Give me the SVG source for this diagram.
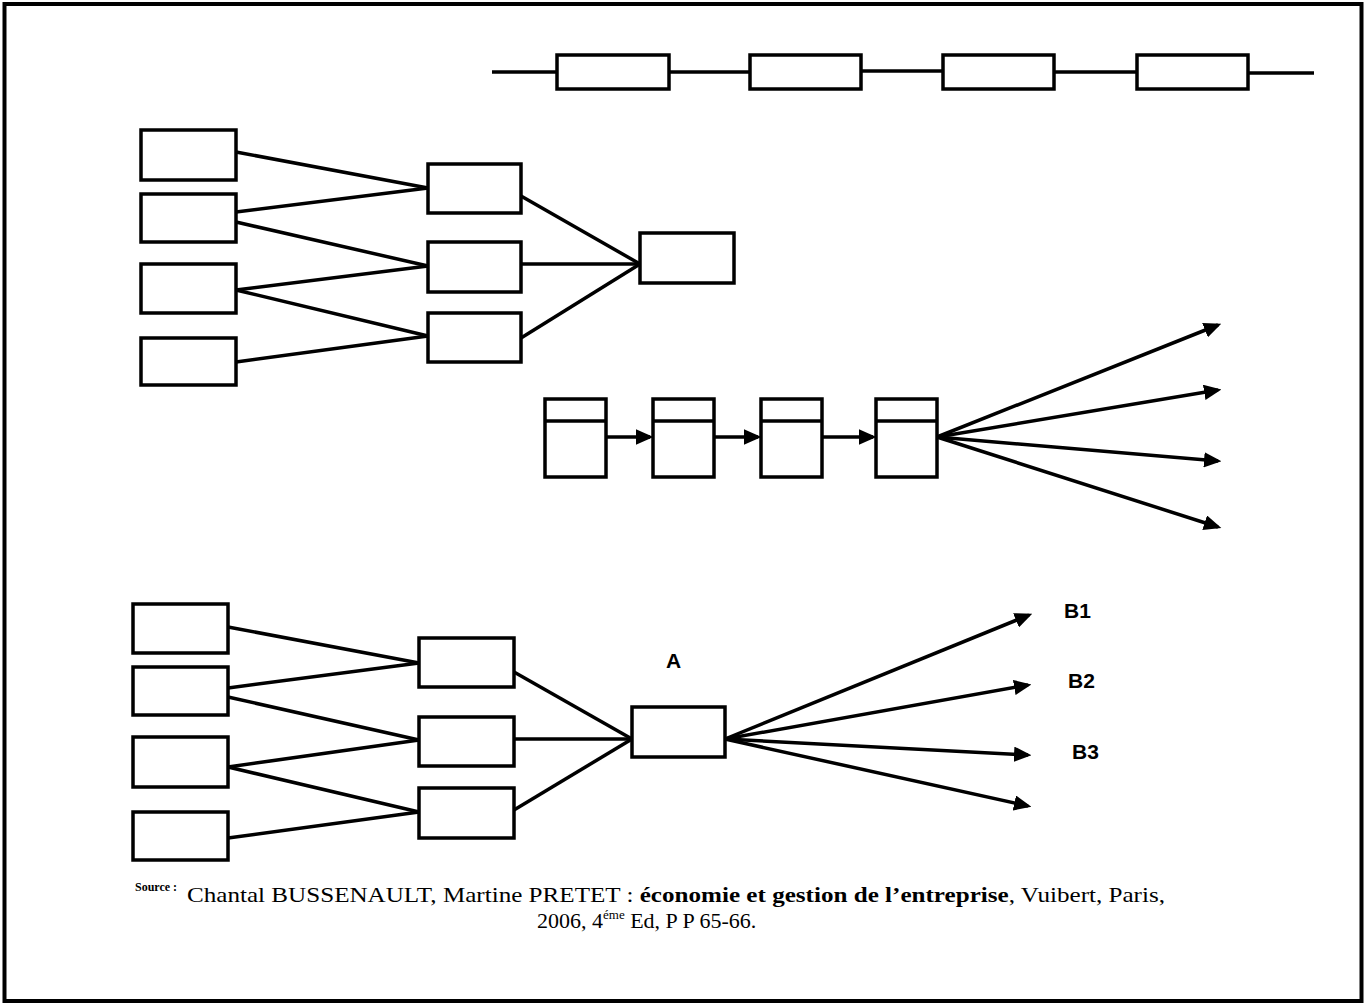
<svg xmlns="http://www.w3.org/2000/svg" width="1365" height="1003" viewBox="0 0 1365 1003">
<defs>
<style>
.box{fill:#fff;stroke:#000;stroke-width:3.5}
.ln{stroke:#000;stroke-width:3.5;fill:none}
.ar{stroke:#000;stroke-width:3.5;fill:none;marker-end:url(#ah)}
.lbl{font-family:"Liberation Sans",Arial,sans-serif;font-weight:bold;font-size:21px;fill:#000}
.src{font-family:"Liberation Serif","Times New Roman",serif;font-size:22px;fill:#000}
</style>
<marker id="ah" markerWidth="5" markerHeight="4.4" refX="4" refY="2.2" orient="auto" markerUnits="strokeWidth">
<path d="M0,0 L5,2.2 L0,4.4 z" fill="#000"/>
</marker>
</defs>
<rect x="0" y="0" width="1365" height="1003" fill="#fff"/>
<rect x="4.5" y="4" width="1357" height="997" fill="none" stroke="#000" stroke-width="4"/>

<g id="connectors">
<line class="ln" x1="492" y1="72" x2="557" y2="72"/>
<line class="ln" x1="669" y1="72" x2="750" y2="72"/>
<line class="ln" x1="861" y1="71" x2="943" y2="71"/>
<line class="ln" x1="1054" y1="72" x2="1137" y2="72"/>
<line class="ln" x1="1248" y1="73" x2="1314" y2="73"/>
<line class="ln" x1="236" y1="152" x2="428" y2="188"/>
<line class="ln" x1="236" y1="212" x2="428" y2="188"/>
<line class="ln" x1="236" y1="222" x2="428" y2="266"/>
<line class="ln" x1="236" y1="290" x2="428" y2="266"/>
<line class="ln" x1="236" y1="290" x2="428" y2="336"/>
<line class="ln" x1="236" y1="362" x2="428" y2="336"/>
<line class="ln" x1="521" y1="196" x2="640" y2="264"/>
<line class="ln" x1="521" y1="264" x2="640" y2="264"/>
<line class="ln" x1="521" y1="338" x2="640" y2="264"/>
<line class="ar" x1="606" y1="437" x2="650" y2="437"/>
<line class="ar" x1="714" y1="437" x2="758" y2="437"/>
<line class="ar" x1="822" y1="437" x2="873" y2="437"/>
<line class="ar" x1="937" y1="437" x2="1218" y2="325"/>
<line class="ar" x1="937" y1="437" x2="1218" y2="390"/>
<line class="ar" x1="937" y1="437" x2="1218" y2="461"/>
<line class="ar" x1="937" y1="437" x2="1218" y2="527"/>
<line class="ln" x1="228" y1="627" x2="419" y2="663"/>
<line class="ln" x1="228" y1="688" x2="419" y2="663"/>
<line class="ln" x1="228" y1="697" x2="419" y2="740"/>
<line class="ln" x1="228" y1="767" x2="419" y2="740"/>
<line class="ln" x1="228" y1="767" x2="419" y2="812"/>
<line class="ln" x1="228" y1="838" x2="419" y2="812"/>
<line class="ln" x1="514" y1="672" x2="632" y2="739"/>
<line class="ln" x1="514" y1="739" x2="632" y2="739"/>
<line class="ln" x1="514" y1="810" x2="632" y2="739"/>
<line class="ar" x1="725" y1="739" x2="1029" y2="615"/>
<line class="ar" x1="725" y1="739" x2="1028" y2="685"/>
<line class="ar" x1="725" y1="739" x2="1028" y2="755"/>
<line class="ar" x1="725" y1="739" x2="1028" y2="806"/>
</g>

<g id="chain1"><rect class="box" x="557" y="55" width="112" height="34"/></g>
<g id="chain2"><rect class="box" x="750" y="55" width="111" height="34"/></g>
<g id="chain3"><rect class="box" x="943" y="55" width="111" height="34"/></g>
<g id="chain4"><rect class="box" x="1137" y="55" width="111" height="34"/></g>

<g id="g2-l1"><rect class="box" x="141" y="130" width="95" height="50"/></g>
<g id="g2-l2"><rect class="box" x="141" y="194" width="95" height="48"/></g>
<g id="g2-l3"><rect class="box" x="141" y="264" width="95" height="49"/></g>
<g id="g2-l4"><rect class="box" x="141" y="338" width="95" height="47"/></g>
<g id="g2-m1"><rect class="box" x="428" y="164" width="93" height="49"/></g>
<g id="g2-m2"><rect class="box" x="428" y="242" width="93" height="50"/></g>
<g id="g2-m3"><rect class="box" x="428" y="313" width="93" height="49"/></g>
<g id="g2-r"><rect class="box" x="640" y="233" width="94" height="50"/></g>

<g id="g3-1"><rect class="box" x="545" y="399" width="61" height="78"/><line class="ln" x1="545" y1="421" x2="606" y2="421"/></g>
<g id="g3-2"><rect class="box" x="653" y="399" width="61" height="78"/><line class="ln" x1="653" y1="421" x2="714" y2="421"/></g>
<g id="g3-3"><rect class="box" x="761" y="399" width="61" height="78"/><line class="ln" x1="761" y1="421" x2="822" y2="421"/></g>
<g id="g3-4"><rect class="box" x="876" y="399" width="61" height="78"/><line class="ln" x1="876" y1="421" x2="937" y2="421"/></g>

<g id="g4-l1"><rect class="box" x="133" y="604" width="95" height="49"/></g>
<g id="g4-l2"><rect class="box" x="133" y="667" width="95" height="48"/></g>
<g id="g4-l3"><rect class="box" x="133" y="737" width="95" height="50"/></g>
<g id="g4-l4"><rect class="box" x="133" y="812" width="95" height="48"/></g>
<g id="g4-m1"><rect class="box" x="419" y="638" width="95" height="49"/></g>
<g id="g4-m2"><rect class="box" x="419" y="717" width="95" height="49"/></g>
<g id="g4-m3"><rect class="box" x="419" y="788" width="95" height="50"/></g>
<g id="g4-A"><rect class="box" x="632" y="707" width="93" height="50"/><text class="lbl" x="666" y="668">A</text></g>
<g id="B1"><text class="lbl" x="1064" y="618">B1</text></g>
<g id="B2"><text class="lbl" x="1068" y="688">B2</text></g>
<g id="B3"><text class="lbl" x="1072" y="759">B3</text></g>

<g id="source">
<text class="src" x="135" y="891" style="font-size:12px;font-weight:bold">Source :</text>
<text class="src" x="187" y="902" textLength="978" lengthAdjust="spacingAndGlyphs">Chantal BUSSENAULT, Martine PRETET : <tspan font-weight="bold">économie et gestion de l’entreprise</tspan>, Vuibert, Paris,</text>
<text class="src" x="537" y="928">2006, 4<tspan dy="-9" font-size="13">éme</tspan><tspan dy="9"> Ed, P P 65-66.</tspan></text>
</g>
</svg>
